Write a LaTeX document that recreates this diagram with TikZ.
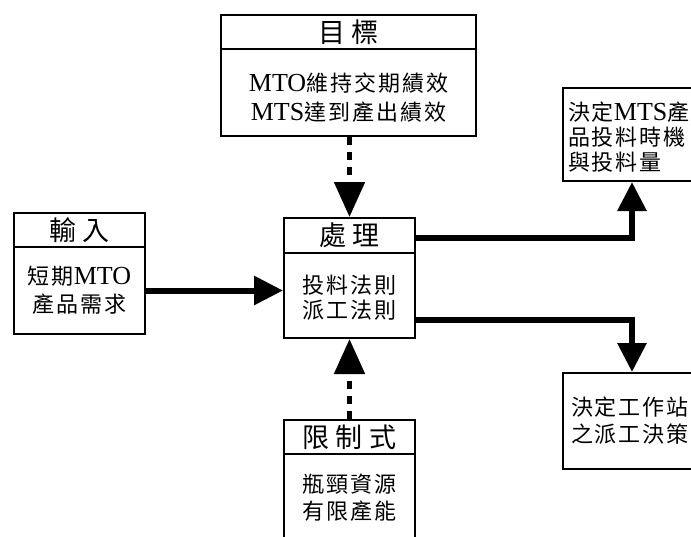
\documentclass[tikz,border=0pt]{standalone}
\usepackage{fontspec}
\setmainfont{Liberation Serif}
\newfontfamily\cjb[LetterSpace=9]{Noto Sans CJK TC}
\newfontfamily\cjh[LetterSpace=24]{Noto Sans CJK TC}
\newcommand\lat[1]{{\rmfamily\fontsize{26}{27}\selectfont #1}}
\usetikzlibrary{arrows.meta}
\tikzset{
  box/.style={draw, line width=2pt, inner sep=0pt, anchor=north west},
  hdr/.style={box, font=\cjh\fontsize{27}{27}\selectfont},
  bod/.style={box, align=center, font=\cjb\fontsize{22}{27}\selectfont},
  outbox/.style={box, align=left, font=\cjb\fontsize{22}{25}\selectfont},
  solidarr/.style={line width=6pt, line join=miter, -{Triangle[length=29pt,width=28pt]}},
  dasharr/.style={line width=5pt, dash pattern=on 8pt off 7pt, -{Triangle[length=35pt,width=30pt]}},
}
\begin{document}
\begin{tikzpicture}[x=1pt,y=-1pt]
\useasboundingbox (0,0) rectangle (691,536);
\clip (0,0) rectangle (691,536);
% goal
\node[hdr, minimum width=255pt, minimum height=34pt] (goalh) at (220,14) {目標};
\node[bod, minimum width=255pt, minimum height=87pt, font=\cjb\fontsize{22}{29}\selectfont] (goalb) at (220,48) {\rule{0pt}{29pt}\lat{MTO}維持交期績效\\\lat{MTS}達到產出績效};
% input
\node[hdr, minimum width=131pt, minimum height=34pt] (inh) at (13,212) {輸入};
\node[bod, minimum width=131pt, minimum height=87pt, font=\cjb\fontsize{22}{28}\selectfont] (inb) at (13,246) {短期\lat{MTO}\\產品需求};
% process
\node[hdr, minimum width=131pt, minimum height=35pt] (proch) at (283,217) {處理};
\node[bod, minimum width=131pt, minimum height=85pt, font=\cjb\fontsize{22}{25}\selectfont] (procb) at (283,252) {\rule{0pt}{23pt}投料法則\\派工法則};
% constraint
\node[hdr, minimum width=131pt, minimum height=34pt] (conh) at (283,419) {限制式};
\node[bod, minimum width=131pt, minimum height=87pt] (conb) at (283,453) {瓶頸資源\\有限產能};
% outputs
\node[outbox, inner xsep=5pt, text width=150pt, minimum height=93pt] (mts) at (562,87) {\rule{0pt}{23pt}決定\lat{MTS}產\\品投料時機\\與投料量};
\node[outbox, inner xsep=8pt, text width=144pt, minimum height=96pt, font=\cjb\fontsize{22}{27}\selectfont] (ws) at (562,372) {決定工作站\\之派工決策};
% connectors
\draw[solidarr] (inb.east) -- (inb.east -| procb.west);
\draw[solidarr] ([yshift=-2pt]proch.east) -| ([xshift=70pt]mts.south west);
\draw[solidarr] ([yshift=-24pt]procb.east) -| ([xshift=70pt]ws.north west);
\draw[dasharr] (proch.north |- goalb.south) -- (proch.north);
\draw[dasharr] (conh.north) -- (procb.south);
\end{tikzpicture}
\end{document}
